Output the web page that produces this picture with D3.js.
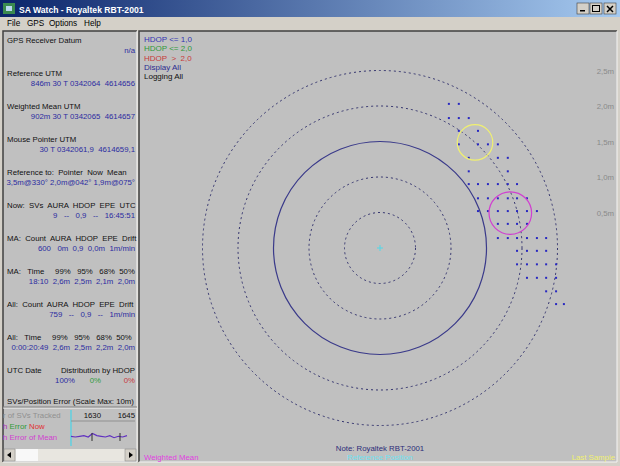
<!DOCTYPE html>
<html>
  <head>
    <meta charset="UTF-8" />
    <title>SA Watch - Royaltek RBT-2001</title>
    <script src="https://cdnjs.cloudflare.com/ajax/libs/d3/7.8.5/d3.min.js"></script>
    <style>
      body { margin: 0; padding: 0; background: #d4d0c8; }
      svg { display: block; font-family: "Liberation Sans", Arial, sans-serif; }
      .pre { white-space: pre; }
    </style>
  </head>
  <body>
    <svg id="win" width="620" height="466"></svg>
    <script>
      // ring radii in metres (solid ring = 1.5m)
      const ringRadii = [0.5, 1.0, 1.5, 2.0, 2.5];
      const ringLabels = ["0,5m", "1,0m", "1,5m", "2,0m", "2,5m"];
      const solidRing = 1.5;

      // logged fixes, metres east/north of the reference point, one row per northing
      const rowNorth = [2.03, 1.83, 1.65, 1.46, 1.27, 1.08, 0.90, 0.70, 0.52, 0.34, 0.14, -0.04, -0.23, -0.42, -0.61, -0.79];
      const rowEast = [
        [0.97, 1.11],
        [0.97, 1.11, 1.25],
        [1.11, 1.38],
        [1.11, 1.38, 1.52, 1.66],
        [1.25, 1.66, 1.80],
        [1.25, 1.80],
        [1.25, 1.38, 1.52, 1.66, 1.80, 1.93],
        [1.38, 1.52, 1.66, 1.80, 1.93, 2.07],
        [1.38, 1.52, 1.66, 1.80, 1.93, 2.07, 2.21],
        [1.66, 1.80, 1.93, 2.07],
        [1.66, 1.80, 1.93, 2.07, 2.21, 2.34],
        [1.93, 2.07, 2.21, 2.34],
        [1.93, 2.07, 2.21, 2.34, 2.48],
        [2.07, 2.21, 2.34, 2.48],
        [2.34, 2.48],
        [2.48, 2.59]
      ];

      // distance (m) and bearing (deg) from reference
      const lastSample = { dist: 2.0, bearing: 42, r: 0.25 };
      const weightedMean = { dist: 1.9, bearing: 75, r: 0.3 };

      const legendItems = ["HDOP <= 1,0", "HDOP <= 2,0", "HDOP  >  2,0", "Display All", "Logging All"];
      const legendColors = ["#3434b4", "#2f9a3a", "#c83a3a", "#2c2c90", "#101010"];

      // left info panel: [label, value] blocks
      const infoBlocks = [
        ["GPS Receiver Datum", "n/a"],
        ["Reference UTM", "846m 30 T 0342064  4614656"],
        ["Weighted Mean UTM", "902m 30 T 0342065  4614657"],
        ["Mouse Pointer UTM", "30 T 0342061,9  4614659,1"],
        ["Reference to:  Pointer  Now  Mean", "3,5m@330° 2,0m@042° 1,9m@075°"],
        ["Now:  SVs  AURA  HDOP  EPE  UTC", "9   --   0,9   --   16:45:51"],
        ["MA:  Count  AURA  HDOP  EPE  Drift", "600   0m  0,9  0,0m  1m/min"],
        ["MA:   Time     99%   95%   68%  50%", "18:10  2,6m  2,5m  2,1m  2,0m"],
        ["All:  Count  AURA  HDOP  EPE  Drift", "759   --   0,9   --   1m/min"],
        ["All:   Time     99%   95%   68%  50%", "0:00:20:49  2,6m  2,5m  2,2m  2,0m"]
      ];
      const hdopDist = ["100%", "0%", "0%"];

      // mini strip chart
      const stripTicks = ["1630", "1645"];
      const meanError = [1.1, 1.0, 1.1, 1.2, 1.0, 1.5, 1.2, 1.1, 1.0, 1.2, 0.9, 1.1, 1.0, 1.2];

      const svg = d3.select("#win");
      const W = 620, H = 466;

      // ---- window chrome ----
      const defs = svg.append("defs");
      const grad = defs.append("linearGradient").attr("id", "tb");
      grad.append("stop").attr("offset", "0%").attr("stop-color", "#0a246a");
      grad.append("stop").attr("offset", "100%").attr("stop-color", "#a6caf0");

      svg.append("rect").attr("width", W).attr("height", H).attr("fill", "#d4d0c8");
      svg.append("rect").attr("x", 0).attr("y", 0).attr("width", W).attr("height", 17).attr("fill", "url(#tb)");
      svg.append("text").attr("x", 19).attr("y", 12.5).attr("fill", "#fff")
        .attr("font-weight", "bold").attr("font-size", 8.6).text("SA Watch - Royaltek RBT-2001");
      // little app icon
      svg.append("rect").attr("x", 3).attr("y", 3).attr("width", 12).attr("height", 11).attr("fill", "#3a8a50");
      svg.append("rect").attr("x", 6).attr("y", 6).attr("width", 6).attr("height", 5).attr("fill", "#b8d8f0");

      // caption buttons
      const btnX = [577, 590, 604];
      const btns = svg.append("g");
      btnX.forEach(bx => {
        btns.append("rect").attr("x", bx).attr("y", 3).attr("width", 12).attr("height", 11)
          .attr("fill", "#d4d0c8").attr("stroke", "#404040").attr("stroke-width", 0.6);
      });
      btns.append("rect").attr("x", 580).attr("y", 10).attr("width", 5).attr("height", 1.5).attr("fill", "#000");
      btns.append("rect").attr("x", 592.5).attr("y", 5.5).attr("width", 7).attr("height", 6)
        .attr("fill", "none").attr("stroke", "#000").attr("stroke-width", 1);
      btns.append("path").attr("d", "M607,6L613,12M613,6L607,12").attr("stroke", "#000").attr("stroke-width", 1.5);

      // menu
      const menu = ["File", "GPS", "Options", "Help"];
      const menuX = [7, 27, 49, 84];
      svg.append("g").selectAll("text").data(menu).join("text")
        .attr("x", (d, i) => menuX[i]).attr("y", 26).attr("font-size", 8.2).attr("fill", "#000").text(d => d);

      // panels
      function sunken(x, y, w, h) {
        svg.append("rect").attr("x", x).attr("y", y).attr("width", w).attr("height", h).attr("fill", "#c0c0c0");
        svg.append("path").attr("d", `M${x},${y + h}V${y}H${x + w}`).attr("stroke", "#404040").attr("fill", "none").attr("stroke-width", 1.5);
        svg.append("path").attr("d", `M${x},${y + h}H${x + w}V${y}`).attr("stroke", "#f4f4f4").attr("fill", "none").attr("stroke-width", 1);
      }
      sunken(3, 31, 134, 431);
      sunken(139, 31, 478, 431);

      // ---- left info panel ----
      const left = svg.append("g").attr("font-size", 7.8);
      infoBlocks.forEach((b, i) => {
        const y0 = 43 + i * 33;
        left.append("text").attr("class", "pre").attr("x", 7).attr("y", y0).attr("fill", "#101010").text(b[0]);
        left.append("text").attr("class", "pre").attr("x", 135).attr("y", y0 + 10)
          .attr("text-anchor", "end").attr("fill", "#2c2ca0").text(b[1]);
      });
      left.append("text").attr("x", 7).attr("y", 373).attr("fill", "#101010").text("UTC Date");
      left.append("text").attr("x", 135).attr("y", 373).attr("text-anchor", "end").attr("fill", "#101010").text("Distribution by HDOP");
      const distX = [75, 101, 135];
      const distColor = ["#2c2ca0", "#2f9a3a", "#c83a3a"];
      left.selectAll("text.dist").data(hdopDist).join("text").attr("class", "dist")
        .attr("x", (d, i) => distX[i]).attr("y", 383).attr("text-anchor", "end")
        .attr("fill", (d, i) => distColor[i]).text(d => d);
      left.append("text").attr("x", 7).attr("y", 404).attr("fill", "#101010").text("SVs/Position Error (Scale Max: 10m)");

      // strip chart
      svg.append("line").attr("x1", 3).attr("x2", 137).attr("y1", 408).attr("y2", 408).attr("stroke", "#f4f4f4");
      svg.append("line").attr("x1", 3).attr("x2", 137).attr("y1", 407).attr("y2", 407).attr("stroke", "#808080");
      const strip = svg.append("g").attr("font-size", 7.8);
      strip.append("text").attr("x", 3).attr("y", 418).attr("fill", "#909090").text("r of SVs Tracked");
      const nowLine = strip.append("text").attr("x", 3).attr("y", 429);
      nowLine.append("tspan").attr("fill", "#b030b0").text("h ");
      nowLine.append("tspan").attr("fill", "#2f9a3a").text("Error ");
      nowLine.append("tspan").attr("fill", "#e03030").text("Now");
      strip.append("text").attr("x", 3).attr("y", 440).attr("fill", "#d040d0").text("h Error of Mean");

      const sx = d3.scaleLinear().domain([0, meanError.length - 1]).range([71, 127]);
      const sy = d3.scaleLinear().domain([0, 10]).range([444, 374]);
      strip.append("line").attr("x1", 71).attr("x2", 71).attr("y1", 410).attr("y2", 446)
        .attr("stroke", "#60d0e0").attr("stroke-width", 1.5);
      strip.append("line").attr("x1", 71).attr("x2", 135).attr("y1", 421).attr("y2", 421)
        .attr("stroke", "#909090");
      strip.selectAll("text.tk").data(stripTicks).join("text").attr("class", "tk")
        .attr("x", (d, i) => [101, 135][i]).attr("y", 418).attr("text-anchor", "end")
        .attr("fill", "#101010").text(d => d);
      strip.append("path").datum(meanError)
        .attr("d", d3.line().x((d, i) => sx(i)).y(d => sy(d)))
        .attr("fill", "none").attr("stroke", "#6030c0").attr("stroke-width", 1.2);
      [92, 120].forEach(px => strip.append("line").attr("x1", px).attr("x2", px).attr("y1", 433).attr("y2", 441).attr("stroke", "#303030"));

      // scrollbar
      svg.append("rect").attr("x", 4).attr("y", 449).attr("width", 132).attr("height", 12).attr("fill", "#e8e6e0");
      svg.append("rect").attr("x", 4).attr("y", 449).attr("width", 11).attr("height", 12).attr("fill", "#d4d0c8").attr("stroke", "#808080").attr("stroke-width", 0.5);
      svg.append("rect").attr("x", 125).attr("y", 449).attr("width", 11).attr("height", 12).attr("fill", "#d4d0c8").attr("stroke", "#808080").attr("stroke-width", 0.5);
      svg.append("rect").attr("x", 16).attr("y", 449).attr("width", 22).attr("height", 12).attr("fill", "#f8f8f8");
      svg.append("path").attr("d", "M11,452L7,455L11,458Z").attr("fill", "#000");
      svg.append("path").attr("d", "M129,452L133,455L129,458Z").attr("fill", "#000");

      // ---- scatter plot ----
      const cx = 380, cy = 248, pxPerM = 71;
      const x = d3.scaleLinear().domain([0, 1]).range([cx, cx + pxPerM]);
      const y = d3.scaleLinear().domain([0, 1]).range([cy, cy - pxPerM]);
      const rpx = m => x(m) - x(0);

      const plot = svg.append("g");
      plot.append("clipPath").attr("id", "pc").append("rect")
        .attr("x", 140).attr("y", 32).attr("width", 477).attr("height", 430);
      const inner = plot.append("g").attr("clip-path", "url(#pc)");

      inner.selectAll("circle.ring").data(ringRadii).join("circle").attr("class", "ring")
        .attr("cx", x(0)).attr("cy", y(0)).attr("r", d => rpx(d))
        .attr("fill", "none")
        .attr("stroke", d => d === solidRing ? "#3a3a8a" : "#34346e")
        .attr("stroke-width", d => d === solidRing ? 1.2 : 1)
        .attr("stroke-dasharray", d => d === solidRing ? null : "2,3");

      inner.selectAll("text.rl").data(ringRadii).join("text").attr("class", "rl")
        .attr("x", 614).attr("y", d => y(d) + 3).attr("text-anchor", "end")
        .attr("font-size", 7.8).attr("fill", "#8a8a8a").text((d, i) => ringLabels[i]);

      // fixes
      const fixes = rowNorth.flatMap((n, i) => rowEast[i].map(e => ({ e, n })));
      inner.selectAll("rect.fix").data(fixes).join("rect").attr("class", "fix")
        .attr("x", d => x(d.e) - 1).attr("y", d => y(d.n) - 1)
        .attr("width", 2).attr("height", 2).attr("fill", "#2828c0");

      const toEN = p => ({
        e: p.dist * Math.sin(p.bearing * Math.PI / 180),
        n: p.dist * Math.cos(p.bearing * Math.PI / 180)
      });
      const ls = toEN(lastSample), wm = toEN(weightedMean);
      inner.append("circle").attr("cx", x(ls.e)).attr("cy", y(ls.n)).attr("r", rpx(lastSample.r))
        .attr("fill", "none").attr("stroke", "#f0f070").attr("stroke-width", 1.2);
      inner.append("circle").attr("cx", x(wm.e)).attr("cy", y(wm.n)).attr("r", rpx(weightedMean.r))
        .attr("fill", "none").attr("stroke", "#d040d0").attr("stroke-width", 1.2);

      // reference cross
      inner.append("path").attr("d", `M${x(0) - 3},${y(0)}H${x(0) + 3}M${x(0)},${y(0) - 3}V${y(0) + 3}`)
        .attr("stroke", "#50d8e8").attr("stroke-width", 1);

      // legend
      inner.selectAll("text.lg").data(legendItems).join("text").attr("class", "lg pre")
        .attr("x", 144).attr("y", (d, i) => 42 + i * 9.3).attr("font-size", 8)
        .attr("fill", (d, i) => legendColors[i]).text(d => d);

      // footer texts
      inner.append("text").attr("x", 380).attr("y", 451).attr("text-anchor", "middle")
        .attr("font-size", 7.8).attr("fill", "#2c2c78").text("Note: Royaltek RBT-2001");
      inner.append("text").attr("x", 380).attr("y", 460).attr("text-anchor", "middle")
        .attr("font-size", 7.8).attr("fill", "#70e0f0").text("Reference Position");
      inner.append("text").attr("x", 144).attr("y", 460)
        .attr("font-size", 7.8).attr("fill", "#e040e0").text("Weighted Mean");
      inner.append("text").attr("x", 615).attr("y", 460).attr("text-anchor", "end")
        .attr("font-size", 7.8).attr("fill", "#f0f070").text("Last Sample");
    </script>
  </body>
</html>
